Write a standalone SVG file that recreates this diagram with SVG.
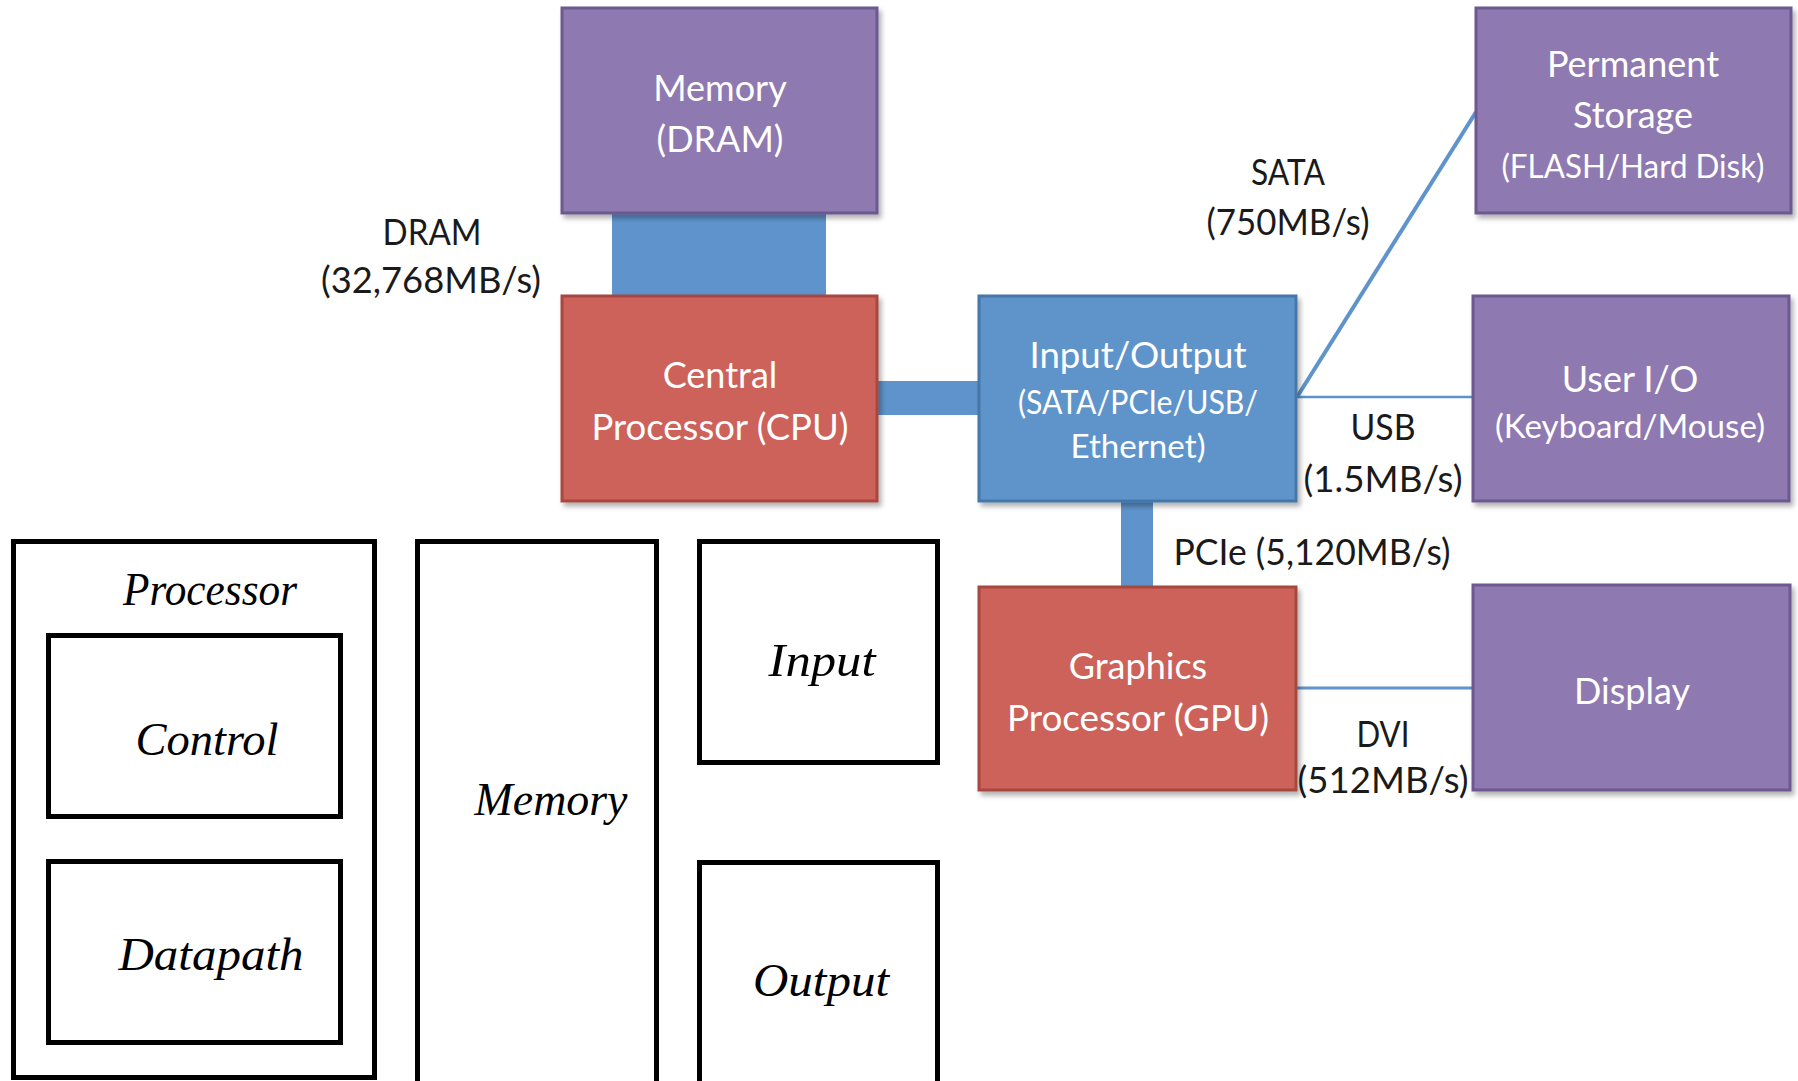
<svg xmlns="http://www.w3.org/2000/svg" width="1798" height="1081" viewBox="0 0 1798 1081">
  <defs>
    <filter id="shadow" x="-10%" y="-10%" width="125%" height="125%">
      <feDropShadow dx="3" dy="4" stdDeviation="2.5" flood-color="#000" flood-opacity="0.3"/>
    </filter>
  </defs>
  <style>
    .purple { fill: #8f79b1; stroke: #6d5890; stroke-width: 3; filter: url(#shadow); }
    .red { fill: #cc625a; stroke: #a84740; stroke-width: 3; filter: url(#shadow); }
    .blue { fill: #5e94cb; stroke: #4577aa; stroke-width: 3; filter: url(#shadow); }
    .bus { fill: #5e94cb; }
    .wire { stroke: #5e94cb; fill: none; }
    .wt { font-family: Lato, "Open Sans", sans-serif; fill: #ffffff; text-anchor: middle; }
    .big { font-size: 36px; }
    .small { font-size: 32px; }
    .lbl { font-family: Lato, "Open Sans", sans-serif; font-size: 37px; fill: #1a1a1a; text-anchor: middle; }
    .frame { fill: #ffffff; stroke: #000000; stroke-width: 5; }
    .it { font-family: "Liberation Serif", serif; font-style: italic; font-size: 46px; fill: #000000; text-anchor: middle; }
  </style>

  <rect width="1798" height="1081" fill="#ffffff"/>

  <!-- buses and links -->
  <g id="connectors">
    <rect class="bus" x="612" y="210" width="214" height="88"/>
    <rect class="bus" x="875" y="381" width="106" height="34"/>
    <rect class="bus" x="1121" y="498" width="32" height="90"/>
    <line class="wire" x1="1297" y1="397" x2="1476" y2="112" stroke-width="4"/>
    <line class="wire" x1="1297" y1="397" x2="1473" y2="397" stroke-width="2.5"/>
    <line class="wire" x1="1297" y1="688" x2="1473" y2="688" stroke-width="3"/>
  </g>

  <!-- link labels -->
  <g id="labels">
    <text class="lbl" x="432" y="245" textLength="99" lengthAdjust="spacingAndGlyphs">DRAM</text>
    <text class="lbl" x="431" y="293" textLength="220" lengthAdjust="spacingAndGlyphs">(32,768MB/s)</text>
    <text class="lbl" x="1288" y="185" textLength="74" lengthAdjust="spacingAndGlyphs">SATA</text>
    <text class="lbl" x="1288" y="235" textLength="163" lengthAdjust="spacingAndGlyphs">(750MB/s)</text>
    <text class="lbl" x="1383" y="440" textLength="65" lengthAdjust="spacingAndGlyphs">USB</text>
    <text class="lbl" x="1383" y="492" textLength="159" lengthAdjust="spacingAndGlyphs">(1.5MB/s)</text>
    <text class="lbl" x="1312" y="565" textLength="277" lengthAdjust="spacingAndGlyphs">PCIe (5,120MB/s)</text>
    <text class="lbl" x="1383" y="747" textLength="53" lengthAdjust="spacingAndGlyphs">DVI</text>
    <text class="lbl" x="1383" y="793" textLength="171" lengthAdjust="spacingAndGlyphs">(512MB/s)</text>
  </g>

  <!-- system components -->
  <g id="dram">
    <rect class="purple" x="562" y="8" width="315" height="205"/>
    <text class="wt big" x="720" y="101">Memory</text>
    <text class="wt big" x="720" y="152">(DRAM)</text>
  </g>
  <g id="cpu">
    <rect class="red" x="562" y="296" width="315" height="205"/>
    <text class="wt big" x="720" y="388">Central</text>
    <text class="wt big" x="720" y="440" textLength="257" lengthAdjust="spacingAndGlyphs">Processor (CPU)</text>
  </g>
  <g id="io">
    <rect class="blue" x="979" y="296" width="317" height="205"/>
    <text class="wt big" x="1138" y="368" textLength="217" lengthAdjust="spacingAndGlyphs">Input/Output</text>
    <text class="wt small" x="1138" y="414" font-size="33" textLength="240" lengthAdjust="spacingAndGlyphs">(SATA/PCIe/USB/</text>
    <text class="wt small" x="1138" y="458" font-size="33" textLength="135" lengthAdjust="spacingAndGlyphs">Ethernet)</text>
  </g>
  <g id="gpu">
    <rect class="red" x="979" y="587" width="317" height="203"/>
    <text class="wt big" x="1138" y="679">Graphics</text>
    <text class="wt big" x="1138" y="731" textLength="262" lengthAdjust="spacingAndGlyphs">Processor (GPU)</text>
  </g>
  <g id="storage">
    <rect class="purple" x="1476" y="8" width="315" height="205"/>
    <text class="wt big" x="1633" y="77">Permanent</text>
    <text class="wt big" x="1633" y="128">Storage</text>
    <text class="wt small" x="1633" y="178" textLength="263" lengthAdjust="spacingAndGlyphs">(FLASH/Hard Disk)</text>
  </g>
  <g id="user-io">
    <rect class="purple" x="1473" y="296" width="316" height="205"/>
    <text class="wt big" x="1630" y="392">User I/O</text>
    <text class="wt small" x="1630" y="438" textLength="270" lengthAdjust="spacingAndGlyphs">(Keyboard/Mouse)</text>
  </g>
  <g id="display">
    <rect class="purple" x="1473" y="585" width="317" height="205"/>
    <text class="wt big" x="1632" y="704">Display</text>
  </g>

  <!-- classic five-component view -->
  <g id="processor">
    <rect class="frame" x="13.5" y="541.5" width="361" height="536"/>
    <text class="it" x="210" y="605" textLength="174" lengthAdjust="spacingAndGlyphs">Processor</text>
  </g>
  <g id="control">
    <rect class="frame" x="48.5" y="635.5" width="292" height="181"/>
    <text class="it" x="207" y="755" textLength="143" lengthAdjust="spacingAndGlyphs">Control</text>
  </g>
  <g id="datapath">
    <rect class="frame" x="48.5" y="861.5" width="292" height="181"/>
    <text class="it" x="211" y="970" textLength="185" lengthAdjust="spacingAndGlyphs">Datapath</text>
  </g>
  <g id="memory">
    <rect class="frame" x="417.5" y="541.5" width="239" height="545"/>
    <text class="it" x="551" y="815" textLength="153" lengthAdjust="spacingAndGlyphs">Memory</text>
  </g>
  <g id="input">
    <rect class="frame" x="699.5" y="541.5" width="238" height="221"/>
    <text class="it" x="822" y="676" textLength="107" lengthAdjust="spacingAndGlyphs">Input</text>
  </g>
  <g id="output">
    <rect class="frame" x="699.5" y="862.5" width="238" height="224"/>
    <text class="it" x="821" y="996" textLength="136" lengthAdjust="spacingAndGlyphs">Output</text>
  </g>
</svg>
